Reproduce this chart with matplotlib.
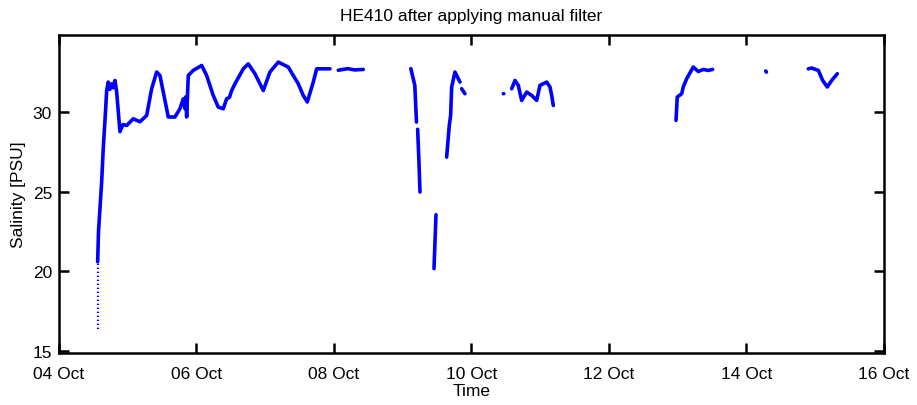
import numpy as np
import pandas as pd
import matplotlib
matplotlib.use("Agg")
import matplotlib.pyplot as plt
import matplotlib.dates as mdates

# day of October (fractional) and salinity [PSU], one list per continuous piece
day_1 = [4.563, 4.575, 4.596, 4.621, 4.644, 4.67, 4.694, 4.717, 4.74, 4.767, 4.79,
         4.815, 4.839, 4.887, 4.93, 4.985, 5.081, 5.178, 5.276, 5.348, 5.421, 5.469,
         5.59, 5.687, 5.76, 5.808, 5.833, 5.847, 5.857, 5.881, 5.953, 6.076, 6.148,
         6.244, 6.317, 6.39, 6.439, 6.48, 6.512, 6.56, 6.681, 6.753, 6.851, 6.972,
         7.069, 7.19, 7.335, 7.408, 7.481, 7.553, 7.612, 7.699, 7.748, 7.942]
sal_1 = [20.6, 22.5, 23.9, 25.6, 27.7, 29.5, 31.33, 31.86, 31.4, 31.75, 31.5,
         31.96, 31.25, 28.75, 29.2, 29.14, 29.56, 29.37, 29.77, 31.44, 32.49, 32.27,
         29.67, 29.67, 30.19, 30.81, 30.19, 30.94, 29.67, 32.27, 32.59, 32.9, 32.27,
         31.02, 30.29, 30.19, 30.81, 30.9, 31.33, 31.75, 32.69, 33.0, 32.38, 31.33,
         32.49, 33.11, 32.8, 32.27, 31.75, 31.02, 30.61, 31.86, 32.69, 32.69]
day_2 = [8.063, 8.2, 8.3, 8.426]
sal_2 = [32.6, 32.7, 32.62, 32.65]
day_3 = [9.118, 9.176, 9.2]
sal_3 = [32.7, 31.65, 29.35]
day_4 = [9.217, 9.235, 9.251]
sal_4 = [28.9, 27.0, 24.97]
day_5 = [9.455, 9.484]
sal_5 = [20.17, 23.55]
day_6 = [9.639, 9.677, 9.697, 9.712, 9.76, 9.808, 9.833]
sal_6 = [27.16, 29.14, 29.77, 31.55, 32.49, 32.07, 31.86]
day_7 = [9.857, 9.905]
sal_7 = [31.44, 31.13]
day_8 = [10.463, 10.47]
sal_8 = [31.13, 31.13]
day_9 = [10.585, 10.633, 10.681, 10.73, 10.803, 10.876, 10.948, 10.996, 11.094,
         11.142, 11.167, 11.19]
sal_9 = [31.44, 31.96, 31.65, 30.71, 31.23, 31.02, 30.71, 31.65, 31.86,
         31.55, 31.02, 30.39]
day_10 = [12.975, 12.993, 13.058, 13.08, 13.13, 13.226, 13.299, 13.371, 13.444, 13.508]
sal_10 = [29.46, 30.92, 31.13, 31.55, 32.07, 32.8, 32.52, 32.65, 32.59, 32.65]
day_11 = [14.28, 14.29]
sal_11 = [32.55, 32.48]
day_12 = [14.899, 14.948, 15.045, 15.108, 15.175, 15.239, 15.321]
sal_12 = [32.69, 32.74, 32.59, 31.96, 31.55, 31.96, 32.38]

# sparse points at the very start (plotted as dots)
day_start = [4.563, 4.563]
sal_start = [16.4, 20.6]

segments = [(day_1, sal_1), (day_2, sal_2), (day_3, sal_3), (day_4, sal_4),
            (day_5, sal_5), (day_6, sal_6), (day_7, sal_7), (day_8, sal_8),
            (day_9, sal_9), (day_10, sal_10), (day_11, sal_11), (day_12, sal_12)]


def to_time(days):
    return pd.Timestamp("2013-10-01") + pd.to_timedelta(np.asarray(days) - 1, unit="D")


t_all = []
s_all = []
for d, s in segments:
    t_all.extend(list(to_time(d)))
    s_all.extend(s)
    t_all.append(to_time([d[-1]])[0])
    s_all.append(np.nan)

plt.rcParams["font.family"] = ["Liberation Sans", "DejaVu Sans"]
fig = plt.figure(figsize=(9.17, 4.06), dpi=100)
ax = fig.add_axes([0.0643, 0.128, 0.8997, 0.783])

ax.plot(t_all, s_all, color="#0000ff", lw=2.6, solid_capstyle="round")
ax.plot(to_time(day_start), sal_start, color="#0000ff", lw=1.6, linestyle=(0, (0.6, 1.2)))

ax.set_xlim(to_time([4])[0], to_time([16])[0])
ax.set_ylim(14.88, 34.8)
ax.set_yticks([15, 20, 25, 30])
ax.xaxis.set_major_locator(mdates.DayLocator(bymonthday=[4, 6, 8, 10, 12, 14, 16]))
ax.xaxis.set_major_formatter(mdates.DateFormatter("%d %b"))

ax.tick_params(direction="in", length=7, width=1.8, top=True, right=True,
               labelsize=12.5)
ax.tick_params(axis="x", pad=9)
ax.tick_params(axis="y", pad=5)
for sp in ax.spines.values():
    sp.set_linewidth(1.8)

ax.set_xlabel("Time", fontsize=12.5, labelpad=2)
ax.set_ylabel("Salinity [PSU]", fontsize=12.5, labelpad=5)
ax.set_title("HE410 after applying manual filter", fontsize=12.5, pad=11)

fig.savefig("out.png", dpi=100)
